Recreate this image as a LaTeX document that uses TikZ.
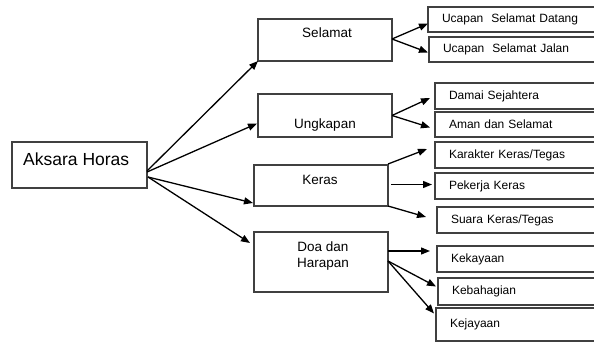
\documentclass[tikz,border=0pt]{standalone}
\usepackage{fontspec}
\setmainfont{Liberation Sans}
\usetikzlibrary{positioning,calc,arrows.meta}

\begin{document}
\begin{tikzpicture}[x=1pt,y=-1pt]
 \coordinate (origo) at (0,0);
 \useasboundingbox (origo) rectangle (594,343);
 \clip (origo) rectangle (594,343);

\tikzstyle{box}=[draw=black!75,line width=1.2pt,inner sep=0pt,outer sep=0pt]
\tikzstyle{midbox}=[box,anchor=north west,minimum width=134pt]
\tikzstyle{leaf}=[box,anchor=north west,inner xsep=14pt,text width=150pt,align=left,font=\fontsize{12}{14}\selectfont]
\tikzstyle{midtext}=[inner sep=0pt,font=\fontsize{13.5}{16}\selectfont]
\tikzstyle{arr}=[line width=1.3pt,-{Triangle[length=9pt,width=7pt]}]

   %root
   \node (aksara) at (12,142) [box,anchor=north west,minimum width=135pt,minimum height=46pt] {};
   \node (aksara_label) at ($(aksara.north west)+(11,23)$) [anchor=base west,inner sep=0pt,font=\fontsize{17.5}{20}\selectfont] {Aksara Horas};

   %middle column
   \node (selamat) at (258,19) [midbox,minimum height=42pt] {};
   \node (selamat_label) at ($(selamat.north)+(2,18)$) [midtext,anchor=base] {Selamat};

   \node (ungkapan) at (258,94) [midbox,minimum height=43pt] {};
   \node (ungkapan_label) at ($(ungkapan.north)+(0,34)$) [midtext,anchor=base] {Ungkapan};

   \node (keras) at (254,165) [midbox,minimum height=41pt] {};
   \node (keras_label) at ($(keras.north)+(-1,19)$) [midtext,anchor=base] {Keras};

   \node (doa) at (254,232) [midbox,minimum height=60pt] {};
   \node (doa_label) at ($(doa.north)+(2,10)$) [midtext,anchor=north,align=center] {Doa dan\\Harapan};

   %right column
   \node (datang) at (428,7) [leaf,minimum height=25pt] {Ucapan\ \ Selamat Datang};
   \node (jalan) at (429,37) [leaf,minimum height=25pt] {Ucapan\ \ Selamat Jalan};
   \node (damai) at (435,83) [leaf,minimum height=26pt] {Damai Sejahtera};
   \node (aman) at (435,112) [leaf,minimum height=25pt] {Aman dan Selamat};
   \node (karakter) at (435,142) [leaf,minimum height=26pt] {Karakter Keras/Tegas};
   \node (pekerja) at (435,173) [leaf,minimum height=26pt] {Pekerja Keras};
   \node (suara) at (437,207) [leaf,minimum height=26pt] {Suara Keras/Tegas};
   \node (kekayaan) at (437,246) [leaf,minimum height=26pt] {Kekayaan};
   \node (kebahagian) at (438,278) [leaf,minimum height=27pt] {Kebahagian};
   \node (kejayaan) at (436,308) [leaf,minimum height=33pt] {Kejayaan};

   %arrows from root
   \draw [arr] ($(aksara.east)+(0,6)$) -- (selamat.south west);
   \draw [arr] ($(aksara.east)+(0,7)$) -- ($(ungkapan.west)+(-1,8)$);
   \draw [arr] ($(aksara.east)+(1,12)$) -- ($(keras.south west)+(-1,-3)$);
   \draw [arr] ($(aksara.east)+(1,12)$) -- ($(doa.north west)+(-4,11)$);

   %arrows to the right column
   \draw [arr] ($(selamat.east)+(0,-1)$) -- ($(datang.west)+(0,4)$);
   \draw [arr] ($(selamat.east)+(0,-1)$) -- ($(jalan.west)+(-1,3)$);

   \draw [arr] (ungkapan.east) -- ($(damai.west)+(-5,2)$);
   \draw [arr] (ungkapan.east) -- ($(aman.west)+(-5,3)$);

   \draw [arr] ($(keras.north east)+(0,-1)$) -- ($(karakter.west)+(-8,-6)$);
   \draw [arr] ($(keras.east)+(3,-1)$) -- ($(pekerja.west)+(-3,-1.5)$);
   \draw [arr] (keras.south east) -- ($(suara.west)+(-11,-3)$);

   \draw [arr] ($(doa.east)+(0,-11)$) -- ($(kekayaan.west)+(-7,-8)$);
   \draw [arr] ($(doa.east)+(0,-1)$) -- ($(kebahagian.west)+(-2,-5)$);
   \draw [arr] ($(doa.east)+(0,-1)$) -- ($(kejayaan.west)+(-2,-11)$);

\end{tikzpicture}
\end{document}
